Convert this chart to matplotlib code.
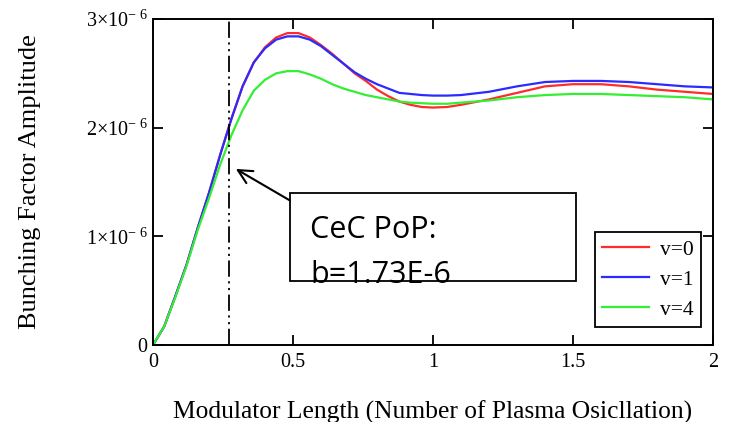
import matplotlib
matplotlib.use("Agg")
import matplotlib.pyplot as plt
from matplotlib.patches import Rectangle
from matplotlib.ticker import FixedLocator

plt.rcParams['font.family'] = ['Liberation Serif', 'DejaVu Serif']
plt.rcParams['mathtext.fontset'] = 'custom'
plt.rcParams['mathtext.rm'] = 'Liberation Serif'
plt.rcParams['mathtext.it'] = 'Liberation Serif:italic'

# ---- data (values in units of 1e-6) ----
x = [0, 0.04, 0.08, 0.12, 0.16, 0.20, 0.24, 0.28, 0.32, 0.36, 0.40, 0.44, 0.48,
     0.52, 0.56, 0.60, 0.64, 0.68, 0.72, 0.76, 0.80, 0.84, 0.88, 0.92, 0.96,
     1.00, 1.05, 1.10, 1.20, 1.30, 1.40, 1.50, 1.60, 1.70, 1.80, 1.90, 2.00]
v0 = [0, 0.17, 0.45, 0.74, 1.08, 1.40, 1.75, 2.08, 2.38, 2.60, 2.74, 2.83, 2.87,
      2.87, 2.83, 2.76, 2.68, 2.59, 2.50, 2.43, 2.35, 2.29, 2.24, 2.21, 2.19,
      2.185, 2.19, 2.21, 2.26, 2.32, 2.38, 2.40, 2.40, 2.38, 2.35, 2.33, 2.31]
v1 = [0, 0.17, 0.45, 0.74, 1.08, 1.40, 1.75, 2.08, 2.38, 2.60, 2.73, 2.81, 2.84,
      2.84, 2.81, 2.75, 2.67, 2.59, 2.51, 2.45, 2.40, 2.36, 2.32, 2.31, 2.30,
      2.295, 2.295, 2.30, 2.33, 2.38, 2.42, 2.43, 2.43, 2.42, 2.40, 2.38, 2.37]
v4 = [0, 0.17, 0.44, 0.73, 1.06, 1.35, 1.66, 1.93, 2.16, 2.34, 2.44, 2.50, 2.52,
      2.52, 2.49, 2.45, 2.40, 2.36, 2.33, 2.30, 2.28, 2.26, 2.24, 2.23, 2.225,
      2.22, 2.22, 2.23, 2.25, 2.28, 2.30, 2.31, 2.31, 2.30, 2.29, 2.28, 2.26]
series = [("v=0", v0, "#ff2b2b"), ("v=1", v1, "#2b2bff"), ("v=4", v4, "#33ee33")]

x_ticks = [0, 0.5, 1, 1.5, 2]
x_tick_labels = ["0", "0.5", "1", "1.5", "2"]
y_ticks = [0, 1e-6, 2e-6, 3e-6]
y_tick_labels = ["0", r"$1{\times}10^{-\ 6}$", r"$2{\times}10^{-\ 6}$", r"$3{\times}10^{-\ 6}$"]

marker_x = 0.27
note_lines = ["CeC PoP:", "b=1.73E-6"]

fig = plt.figure(figsize=(7.32, 4.22), dpi=100)
ax = fig.add_axes([0.209, 0.1825, 0.765, 0.7725])

for label, vals, col in series:
    ax.plot(x, [v * 1e-6 for v in vals], color=col, lw=1.6, label=label)

ax.plot([marker_x, marker_x], [0, 3e-6], color="black", lw=1.3,
        dashes=(9, 2.5, 1.2, 2.5, 1.2, 2.5), clip_on=False)

ax.set_xlim(0, 2)
ax.set_ylim(0, 3e-6)
ax.xaxis.set_major_locator(FixedLocator(x_ticks))
ax.set_xticklabels(x_tick_labels)
ax.yaxis.set_major_locator(FixedLocator(y_ticks))
ax.set_yticklabels(y_tick_labels)
ax.tick_params(direction="in", length=7, width=1.3, top=True, right=True,
               labelsize=14.5, pad=6, colors="black")
ax.tick_params(axis="y", pad=4)
for s in ax.spines.values():
    s.set_linewidth(1.4)

ax.set_xlabel("Modulator Length (Number of Plasma Osicllation)", fontsize=18.4, labelpad=20)
ax.set_ylabel("Bunching Factor Amplitude", fontsize=19, labelpad=32)

leg = ax.legend(loc="lower right", bbox_to_anchor=(0.9795, 0.055), fontsize=15.5,
                frameon=True, fancybox=False, edgecolor="black", framealpha=1,
                handlelength=2.2, handletextpad=0.5, labelspacing=0.45,
                borderpad=0.35, borderaxespad=0)
leg.get_frame().set_linewidth(1.3)

# annotation box
box = Rectangle((0.489, 0.59e-6), 1.511 - 0.489, 0.81e-6, facecolor="white",
                edgecolor="black", lw=1.3, zorder=5)
ax.add_patch(box)
for line, yb in zip(note_lines, [0.984e-6, 0.575e-6]):
    t = ax.text(0.561, yb, line, fontsize=22, family="Open Sans", va="baseline",
                ha="left", zorder=6)
    t.set_clip_path(box)
ax.annotate("", xy=(0.296, 1.62e-6), xytext=(0.489, 1.33e-6),
            arrowprops=dict(arrowstyle="->", color="black", lw=1.5,
                            mutation_scale=25, shrinkA=0, shrinkB=0), zorder=6)

fig.savefig("out.png", dpi=100)
